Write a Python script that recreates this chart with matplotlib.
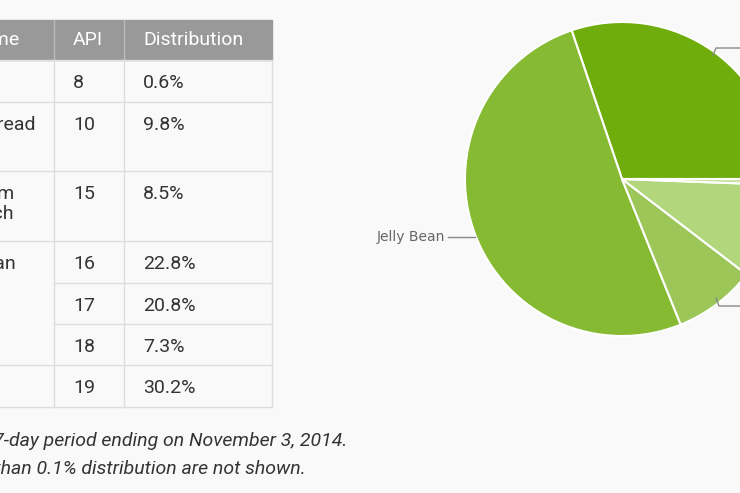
import matplotlib.pyplot as plt
from matplotlib.lines import Line2D
from matplotlib.patches import Rectangle

# pie data (counterclockwise from 3 o'clock)
versions = ["KitKat", "Jelly Bean", "Ice Cream Sandwich", "Gingerbread", "Froyo"]
shares = [30.2, 50.9, 8.5, 9.8, 0.6]
colors = ["#6fad0c", "#86ba33", "#9cc658", "#b1d67b", "#c9e3a2"]

# table data
names = ["Froyo", "Gingerbread", "Ice Cream\nSandwich", "Jelly Bean", "", "", "KitKat"]
apis = ["8", "10", "15", "16", "17", "18", "19"]
dists = ["0.6%", "9.8%", "8.5%", "22.8%", "20.8%", "7.3%", "30.2%"]

W, H = 740, 493
fig = plt.figure(figsize=(W / 100, H / 100), dpi=100, facecolor="#f9f9f9")

def fx(x): return x / W
def fy(y): return 1 - y / H

# pie, centred at (622,179) px with radius 157 px
cx, cy, r = 622, 179, 157
ax = fig.add_axes([fx(cx - r), fy(cy + r), 2 * r / W, 2 * r / H])
ax.pie(shares, colors=colors, startangle=0, counterclock=True,
       wedgeprops=dict(edgecolor="white", linewidth=1.5))
ax.set_xlim(-1, 1)
ax.set_ylim(-1, 1)
ax.set_aspect("equal")

fig.text(fx(445), fy(237), "Jelly Bean", ha="right", va="center", fontsize=10, color="#666")
fig.add_artist(Line2D([fx(448), fx(475)], [fy(237), fy(237)], color="#888", lw=1))
fig.add_artist(Line2D([fx(713), fx(716), fx(740)], [fy(55), fy(48), fy(48)], color="#888", lw=1))
fig.add_artist(Line2D([fx(716), fx(719), fx(740)], [fy(298), fy(306), fy(306)], color="#888", lw=1))

# table
rows = [60, 102, 171, 241, 283, 324, 365, 407]
grid = "#dddddd"
fig.add_artist(Rectangle((fx(-10), fy(60)), fx(282), fy(20) - fy(60), color="#999999"))
for x in [54, 124]:
    fig.add_artist(Line2D([fx(x), fx(x)], [fy(20), fy(60)], color="#bbbbbb", lw=1))
fig.add_artist(Line2D([fx(124), fx(124)], [fy(60), fy(407)], color=grid, lw=1))
fig.add_artist(Line2D([fx(272), fx(272)], [fy(60), fy(407)], color=grid, lw=1))
fig.add_artist(Line2D([fx(54), fx(54)], [fy(60), fy(407)], color=grid, lw=1))
for i, y in enumerate(rows):
    x0 = 54 if i in (4, 5) else 0
    fig.add_artist(Line2D([fx(x0), fx(272)], [fy(y), fy(y)], color=grid, lw=1))

fs = 14
tkw = dict(fontsize=fs, color="#333", va="top", family="Roboto")
fig.text(fx(20), fy(31), "Codename", ha="right", color="white", fontsize=fs, va="top", family="Roboto")
fig.text(fx(73), fy(31), "API", color="white", fontsize=fs, va="top", family="Roboto")
fig.text(fx(143), fy(31), "Distribution", color="white", fontsize=fs, va="top", family="Roboto")
name_right = {1: 36, 2: 14, 3: 16}
for i, (n, a, d) in enumerate(zip(names, apis, dists)):
    ytop = rows[i] + 14
    if i in name_right:
        fig.text(fx(name_right[i]), fy(ytop), n, ha="right", linespacing=1.15, **tkw)
    fig.text(fx(73), fy(ytop), a, **tkw)
    fig.text(fx(143), fy(ytop), d, **tkw)

fig.text(fx(347), fy(441), "Data collected during a 7-day period ending on November 3, 2014.",
         ha="right", va="center", fontsize=fs, style="italic", color="#333", family="Roboto")
fig.text(fx(307), fy(469), "Any versions with less than 0.1% distribution are not shown.",
         ha="right", va="center", fontsize=fs, style="italic", color="#333", family="Roboto")

fig.savefig("out.png", dpi=100, facecolor=fig.get_facecolor())
